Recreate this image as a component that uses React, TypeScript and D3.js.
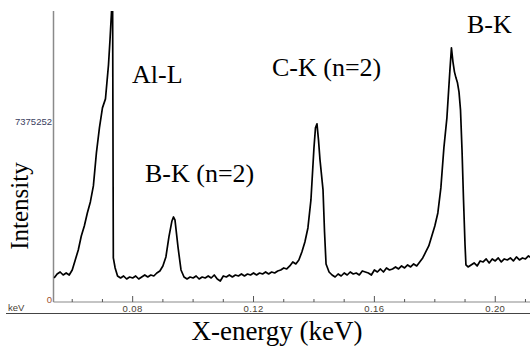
import { useEffect, useRef } from 'react'
import * as d3 from 'd3'

// spectrum, energy in keV and intensity in thousands of counts
const energy = [
  0.054, 0.055, 0.056, 0.057, 0.058, 0.059, 0.060, 0.061, 0.062, 0.063, 0.064, 0.065, 0.066, 0.067, 0.068, 0.069,
  0.070, 0.071, 0.072, 0.0725, 0.073, 0.0733, 0.0736, 0.0742, 0.075, 0.076, 0.077, 0.078, 0.079, 0.080, 0.081,
  0.082, 0.083, 0.084, 0.085, 0.086, 0.087, 0.088, 0.089, 0.090, 0.091, 0.092, 0.093, 0.0935, 0.094, 0.095,
  0.096, 0.097, 0.098, 0.099, 0.100, 0.101, 0.102, 0.103, 0.104, 0.105, 0.106, 0.107, 0.108, 0.109, 0.110,
  0.111, 0.112, 0.113, 0.114, 0.115, 0.116, 0.117, 0.118, 0.119, 0.120, 0.121, 0.122, 0.123, 0.124, 0.125,
  0.126, 0.127, 0.128, 0.129, 0.130, 0.131, 0.132, 0.133, 0.134, 0.135, 0.136, 0.137, 0.138, 0.139, 0.140,
  0.1405, 0.141, 0.1415, 0.142, 0.143, 0.1435, 0.144, 0.145, 0.146, 0.147, 0.148, 0.149, 0.150, 0.151, 0.152,
  0.153, 0.154, 0.155, 0.156, 0.157, 0.158, 0.159, 0.160, 0.161, 0.162, 0.163, 0.164, 0.165, 0.166, 0.167,
  0.168, 0.169, 0.170, 0.171, 0.172, 0.173, 0.174, 0.175, 0.176, 0.177, 0.178, 0.179, 0.180, 0.181, 0.182,
  0.183, 0.184, 0.185, 0.1855, 0.186, 0.1865, 0.187, 0.1875, 0.188, 0.1885, 0.189, 0.1895, 0.190, 0.1903,
  0.191, 0.192, 0.193, 0.194, 0.195, 0.196, 0.197, 0.198, 0.199, 0.200, 0.201, 0.202, 0.203, 0.204, 0.205,
  0.206, 0.207, 0.208, 0.209, 0.210, 0.211, 0.212,
]
const counts = [
  984, 1148, 1230, 1107, 1189, 1107, 1312, 1722, 2132, 2706, 3116, 3649, 4100, 4756, 6109, 7134,
  7954, 8323, 9717, 10742, 11890, 15000, 1804, 1394, 1066, 984, 1066, 943, 1025, 984, 1066,
  943, 1025, 1107, 1025, 1107, 1066, 1189, 1271, 1476, 1845, 2665, 3321, 3485, 3362, 2255,
  1312, 1025, 943, 1025, 984, 1066, 943, 1025, 984, 1066, 984, 1107, 943, 861, 1066,
  1025, 1107, 1025, 1107, 1066, 1148, 1066, 1148, 1107, 1189, 1107, 1189, 1148, 1230, 1148,
  1230, 1189, 1271, 1312, 1394, 1353, 1476, 1640, 1558, 1722, 2050, 2460, 3034, 4182, 6314,
  7134, 7298, 6642, 5822, 4592, 2870, 1558, 1230, 1107, 1025, 1148, 1066, 1189, 1107, 1230,
  1148, 1189, 1107, 1271, 1230, 1189, 1107, 1312, 1230, 1353, 1230, 1394, 1312, 1353, 1435,
  1353, 1476, 1394, 1517, 1435, 1558, 1476, 1640, 1804, 2050, 2296, 2706, 3116, 3649, 4674,
  6314, 7544, 9512, 10414, 9840, 9430, 9184, 8979, 8610, 7872, 6232, 4182, 2337, 1517,
  1435, 1517, 1599, 1476, 1681, 1640, 1763, 1599, 1763, 1681, 1804, 1640, 1763, 1722, 1804,
  1681, 1845, 1722, 1804, 1763, 1886, 1804,
]

const xDomain = [0.0538, 0.2115]
const yMax = 11923
const majorTicks = [0.08, 0.12, 0.16, 0.20]
const minorTicks = [0.06, 0.07, 0.09, 0.10, 0.11, 0.13, 0.14, 0.15, 0.17, 0.18, 0.19, 0.21]
const yTick = 7375.252
const yTickLabel = '7375252'

const peaks = [
  { label: 'Al-L', x: 132, y: 83 },
  { label: 'B-K (n=2)', x: 145, y: 182 },
  { label: 'C-K (n=2)', x: 272, y: 76 },
  { label: 'B-K', x: 467, y: 33 },
]

export default function App() {
  const svgRef = useRef<SVGSVGElement>(null)

  useEffect(() => {
    const svg = d3.select(svgRef.current)
    svg.selectAll('*').remove()
    const W = 530, H = 348
    const L = 53.5, R = 530, T = 11, B = 302

    const x = d3.scaleLinear().domain(xDomain).range([L, R])
    const y = d3.scaleLinear().domain([0, yMax]).range([B, T])

    svg.attr('width', W).attr('height', H)
    svg.append('rect').attr('width', W).attr('height', H).attr('fill', '#fff')

    svg.append('defs').append('clipPath').attr('id', 'plot')
      .append('rect').attr('x', L).attr('y', T).attr('width', R - L).attr('height', B - T)

    const sans = "'Liberation Sans', Arial, sans-serif"
    const serif = "'Liberation Serif', 'Times New Roman', serif"

    // axes
    svg.append('line').attr('x1', L).attr('x2', L).attr('y1', T).attr('y2', B)
      .attr('stroke', '#8a8a8a').attr('stroke-width', 1.5)
    svg.append('line').attr('x1', L).attr('x2', R).attr('y1', B).attr('y2', B)
      .attr('stroke', '#8a8a8a').attr('stroke-width', 1.2)
    majorTicks.forEach(t => {
      svg.append('line').attr('x1', x(t)).attr('x2', x(t)).attr('y1', B - 6).attr('y2', B)
        .attr('stroke', '#555').attr('stroke-width', 1)
      svg.append('text').attr('x', x(t)).attr('y', B + 9.5).attr('text-anchor', 'middle')
        .attr('font-family', sans).attr('font-size', 9.5)
        .attr('fill', '#4a3f35').attr('letter-spacing', 0.4).text(t.toFixed(2))
    })
    minorTicks.forEach(t => {
      svg.append('line').attr('x1', x(t)).attr('x2', x(t)).attr('y1', B - 3).attr('y2', B)
        .attr('stroke', '#555').attr('stroke-width', 1)
    })
    svg.append('line').attr('x1', 6).attr('x2', W).attr('y1', 313.5).attr('y2', 313.5)
      .attr('stroke', '#444').attr('stroke-width', 1)
    svg.append('text').attr('x', 8).attr('y', 310.5)
      .attr('font-family', sans).attr('font-size', 9.5)
      .attr('fill', '#4a3f35').text('keV')
    svg.append('text').attr('x', 52).attr('y', 303).attr('text-anchor', 'end')
      .attr('font-family', sans).attr('font-size', 9.5)
      .attr('fill', '#a0522d').text('0')
    svg.append('text').attr('x', 52).attr('y', y(yTick) + 3.5).attr('text-anchor', 'end')
      .attr('font-family', sans).attr('font-size', 9.5)
      .attr('fill', '#3a4060').text(yTickLabel)

    // spectrum
    const line = d3.line<number>().x((_, i) => x(energy[i])).y(d => y(d))
    svg.append('path').datum(counts).attr('clip-path', 'url(#plot)')
      .attr('fill', 'none').attr('stroke', '#000').attr('stroke-width', 1.7)
      .attr('stroke-linejoin', 'round').attr('d', line)

    // labels
    peaks.forEach(p => {
      svg.append('text').attr('x', p.x).attr('y', p.y).attr('font-family', serif)
        .attr('font-size', 26).attr('fill', '#000').text(p.label)
    })
    svg.append('text').attr('x', 277).attr('y', 340).attr('text-anchor', 'middle')
      .attr('font-family', serif).attr('font-size', 27).attr('fill', '#000').text('X-energy (keV)')
    svg.append('text').attr('transform', 'translate(28,206) rotate(-90)').attr('text-anchor', 'middle')
      .attr('font-family', serif).attr('font-size', 25).attr('fill', '#000').text('Intensity')
  }, [])

  return <svg ref={svgRef} style={{ position: 'absolute', left: 0, top: 0 }} />
}
